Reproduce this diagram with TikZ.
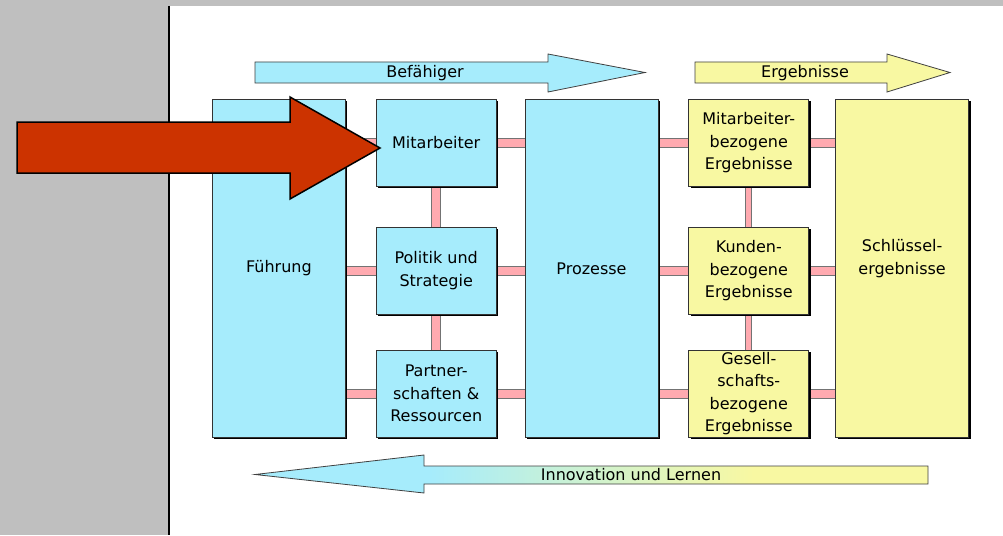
\documentclass[tikz,border=0pt]{standalone}
\usepackage{fontspec}
\setmainfont{DejaVu Sans}
\usetikzlibrary{positioning,shadows,backgrounds}

\definecolor{befblue}{RGB}{166,236,252}
\definecolor{ergyellow}{RGB}{248,248,162}
\definecolor{linkpink}{RGB}{255,170,176}
\definecolor{slidegray}{RGB}{191,191,191}
\definecolor{pointred}{RGB}{204,51,0}
\pgfdeclarehorizontalshading{innoshade}{100bp}{color(0bp)=(befblue); color(38bp)=(befblue); color(62bp)=(ergyellow); color(100bp)=(ergyellow)}

\begin{document}
\begin{tikzpicture}[x=1pt, y=-1pt,
box/.style={draw=black!80, line width=0.8pt, align=center, inner sep=0pt,
            font=\fontsize{16}{22.5}\selectfont,
            drop shadow={shadow xshift=2pt, shadow yshift=-2pt, fill=black, opacity=1}},
enabler/.style={box, fill=befblue},
result/.style={box, fill=ergyellow},
tall/.style={minimum width=133pt, minimum height=338pt},
small/.style={minimum width=120pt, minimum height=87pt},
link/.style={draw=black!55, line width=1pt, double=linkpink, double distance=8pt},
thinlink/.style={link, double distance=5pt},
band/.style={draw=black!75, line width=0.8pt},
bandtext/.style={font=\fontsize{16}{20}\selectfont}
]
\useasboundingbox (0,0) rectangle (1003,535);

\node[enabler, tall, anchor=north west] (fuehrung) at (212,99) {Führung};
\node[enabler, small, right=30pt of fuehrung.north east, anchor=north west] (mitarbeiter) {Mitarbeiter};
\node[enabler, small, below=40pt of mitarbeiter] (politik) {Politik und\\Strategie};
\node[enabler, small, below=35pt of politik] (partner) {Partner-\\schaften \&\\Ressourcen};
\node[enabler, tall, right=28pt of mitarbeiter.north east, anchor=north west] (prozesse) {Prozesse};

\node[result, small, right=30pt of prozesse.north east, anchor=north west] (mitergebnis)
{Mitarbeiter-\\bezogene\\Ergebnisse};
\node[result, small, below=40pt of mitergebnis] (kundenergebnis)
{Kunden-\\bezogene\\Ergebnisse};
\node[result, small, below=35pt of kundenergebnis] (gesellergebnis)
{Gesell-\\schafts-\\bezogene\\Ergebnisse};
\node[result, tall, right=26pt of mitergebnis.north east, anchor=north west] (schluessel) {};
\node[align=center, font=\fontsize{16}{22.5}\selectfont] (schluesseltext)
  at ([yshift=10pt]schluessel.center) {Schlüssel-\\ergebnisse};

\begin{scope}[on background layer]
\fill[slidegray] (0,0) rectangle (1003,535);
\fill[white] (169,6) rectangle (1003,535);
\draw[line width=1.5pt] (169,6) -- (169,535);

\draw[link] (fuehrung |- mitarbeiter) -- (mitarbeiter) -- (prozesse |- mitarbeiter)
  -- (mitergebnis) -- (schluessel |- mitergebnis);
\draw[link] (fuehrung |- politik) -- (politik) -- (prozesse |- politik)
  -- (kundenergebnis) -- (schluessel |- kundenergebnis);
\draw[link] (fuehrung |- partner) -- (partner) -- (prozesse |- partner)
  -- (gesellergebnis) -- (schluessel |- gesellergebnis);
\draw[link] (mitarbeiter) -- (politik) -- (partner);
\draw[thinlink] (mitergebnis) -- (kundenergebnis) -- (gesellergebnis);
\end{scope}

\draw[band, fill=befblue] (255,62) -- (548,62) -- (548,54) -- (645,72.5) -- (548,92)
  -- (548,83) -- (255,83) -- cycle;
\node[bandtext] (befaehiger) at (425,73) {Befähiger};

\draw[band, fill=ergyellow] (695,62) -- (887,62) -- (887,54) -- (950,72.5) -- (887,92)
  -- (887,83) -- (695,83) -- cycle;
\node[bandtext] (ergebnisse) at (805,73) {Ergebnisse};

\draw[band, shading=innoshade] (928,466) -- (424,466) -- (424,455) -- (255,474.5)
  -- (424,493) -- (424,484) -- (928,484) -- cycle;
\node[bandtext] (innovation) at (631,475) {Innovation und Lernen};

\draw[line width=1.5pt, fill=pointred] (17,122) -- (290,122) -- (290,97) -- (380,148)
  -- (290,199) -- (290,173) -- (17,173) -- cycle;
\end{tikzpicture}
\end{document}
